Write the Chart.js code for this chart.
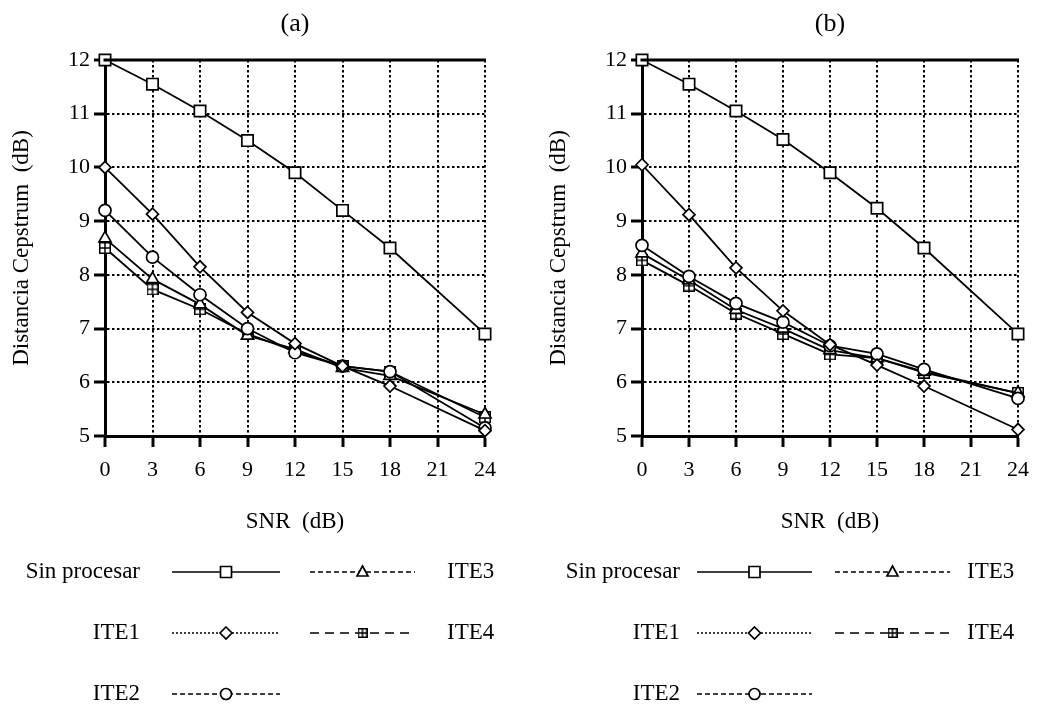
<!DOCTYPE html>
<html>
<head>
<meta charset="utf-8">
<script src="https://cdn.jsdelivr.net/npm/chart.js@4.4.0/dist/chart.umd.min.js"></script>
<style>
  html, body { margin: 0; padding: 0; background: #fff; }
  #wrap { position: relative; width: 1044px; height: 704px; }
  .box { position: absolute; top: 0; width: 522px; height: 704px; }
  #boxA { left: 0; }
  #boxB { left: 522px; }
</style>
</head>
<body>
<div id="wrap">
  <div class="box" id="boxA"><canvas id="chartA"></canvas></div>
  <div class="box" id="boxB"><canvas id="chartB"></canvas></div>
</div>
<script>
// valores
const snr = [0, 3, 6, 9, 12, 15, 18, 24];
const seriesNames = ['Sin procesar', 'ITE1', 'ITE2', 'ITE3', 'ITE4'];

// (a)
const sinProcA = [12.0, 11.55, 11.05, 10.5, 9.9, 9.2, 8.5, 6.9];
const ite1A = [10.0, 9.13, 8.15, 7.3, 6.72, 6.3, 5.93, 5.1];
const ite2A = [9.2, 8.33, 7.63, 7.0, 6.55, 6.3, 6.2, 5.15];
const ite3A = [8.68, 7.92, 7.45, 6.87, 6.62, 6.27, 6.12, 5.4];
const ite4A = [8.5, 7.73, 7.36, 6.9, 6.58, 6.3, 6.2, 5.35];

// (b)
const sinProcB = [12.0, 11.55, 11.05, 10.52, 9.9, 9.24, 8.5, 6.9];
const ite1B = [10.05, 9.12, 8.13, 7.33, 6.7, 6.32, 5.93, 5.12];
const ite2B = [8.55, 7.97, 7.47, 7.12, 6.68, 6.53, 6.24, 5.7];
const ite3B = [8.4, 7.9, 7.35, 7.0, 6.6, 6.45, 6.2, 5.8];
const ite4B = [8.27, 7.8, 7.28, 6.9, 6.52, 6.45, 6.18, 5.8];

const FONT = "'Liberation Serif', 'Times New Roman', serif";

// cuadrado con cruz para ITE4
function boxPlus(size) {
    const c = document.createElement('canvas');
    c.width = size; c.height = size;
    const g = c.getContext('2d');
    g.fillStyle = '#fff';
    g.fillRect(0, 0, size, size);
    g.strokeStyle = '#000';
    g.lineWidth = 1.5;
    g.strokeRect(0.75, 0.75, size - 1.5, size - 1.5);
    g.beginPath();
    g.moveTo(size / 2, 1); g.lineTo(size / 2, size - 1);
    g.moveTo(1, size / 2); g.lineTo(size - 1, size / 2);
    g.stroke();
    return c;
}
const boxPlusImg = boxPlus(12);
const boxPlusSmall = boxPlus(10);

const styles = [
    { point: 'rect', r: 8, dash: [] },
    { point: 'rectRot', r: 6, dash: [2, 2] },
    { point: 'circle', r: 6, dash: [5, 3] },
    { point: 'triangle', r: 7, dash: [5, 3] },
    { point: boxPlusImg, r: 6, dash: [9, 6] }
];

function makeDatasets(values) {
    return values.map((vals, i) => ({
        label: seriesNames[i],
        data: snr.map((x, j) => ({ x: x, y: vals[j] })),
        borderColor: '#000',
        borderWidth: 1.8,
        backgroundColor: '#fff',
        pointStyle: styles[i].point,
        pointRadius: styles[i].r,
        pointBorderWidth: 1.7,
        pointBackgroundColor: '#fff',
        pointBorderColor: '#000',
        legendDash: styles[i].dash,
        tension: 0,
        clip: false
    }));
}

function drawMarker(ctx, kind, x, y) {
    ctx.save();
    ctx.setLineDash([]);
    ctx.fillStyle = '#fff';
    ctx.strokeStyle = '#000';
    ctx.lineWidth = 1.7;
    ctx.beginPath();
    if (kind === 'rect') {
        ctx.rect(x - 5.5, y - 5.5, 11, 11);
    } else if (kind === 'rectRot') {
        ctx.moveTo(x, y - 6); ctx.lineTo(x + 6, y); ctx.lineTo(x, y + 6); ctx.lineTo(x - 6, y); ctx.closePath();
    } else if (kind === 'circle') {
        ctx.arc(x, y, 5.5, 0, Math.PI * 2);
    } else if (kind === 'triangle') {
        ctx.moveTo(x, y - 6); ctx.lineTo(x + 5.5, y + 4); ctx.lineTo(x - 5.5, y + 4); ctx.closePath();
    } else {
        ctx.drawImage(boxPlusSmall, x - 5, y - 5);
        ctx.restore();
        return;
    }
    ctx.fill();
    ctx.stroke();
    ctx.restore();
}

// leyenda dibujada debajo del grafico
const legendPlugin = {
    id: 'sketchLegend',
    afterDraw(chart, args, opts) {
        const ctx = chart.ctx;
        const sets = chart.data.datasets;
        const slots = [
            { idx: 0, row: 0, col: 0 },
            { idx: 1, row: 1, col: 0 },
            { idx: 2, row: 2, col: 0 },
            { idx: 3, row: 0, col: 1 },
            { idx: 4, row: 1, col: 1 }
        ];
        ctx.save();
        ctx.font = '23px ' + FONT;
        ctx.fillStyle = '#000';
        ctx.textBaseline = 'middle';
        slots.forEach(s => {
            const ds = sets[s.idx];
            const y = opts.rows[s.row];
            const seg = s.col === 0 ? opts.col1 : opts.col2;
            ctx.save();
            ctx.strokeStyle = '#000';
            ctx.lineWidth = 1.5;
            ctx.setLineDash(ds.legendDash);
            ctx.beginPath();
            ctx.moveTo(seg[0], y);
            ctx.lineTo(seg[1], y);
            ctx.stroke();
            ctx.restore();
            const kind = typeof ds.pointStyle === 'string' ? ds.pointStyle : 'img';
            drawMarker(ctx, kind, (seg[0] + seg[1]) / 2, y);
            if (s.col === 0) {
                ctx.textAlign = 'right';
                ctx.fillText(ds.label, opts.textRight, y);
            } else {
                ctx.textAlign = 'left';
                ctx.fillText(ds.label, opts.textLeft, y);
            }
        });
        ctx.restore();
    }
};

// titulo (a)/(b) y marco superior
const framePlugin = {
    id: 'frame',
    afterDraw(chart, args, opts) {
        const { ctx, chartArea } = chart;
        ctx.save();
        ctx.strokeStyle = '#000';
        ctx.lineWidth = 3;
        ctx.beginPath();
        ctx.moveTo(chartArea.left - 1.5, chartArea.top);
        ctx.lineTo(chartArea.right + 1, chartArea.top);
        ctx.stroke();
        ctx.font = '26px ' + FONT;
        ctx.fillStyle = '#000';
        ctx.textAlign = 'center';
        ctx.textBaseline = 'middle';
        ctx.fillText(opts.text, (chartArea.left + chartArea.right) / 2, 24);
        ctx.restore();
    }
};

function makeChart(id, values, cfg) {
    const config = {
        type: 'line',
        data: { datasets: makeDatasets(values) },
        plugins: [framePlugin, legendPlugin],
        options: {
            responsive: true,
            maintainAspectRatio: false,
            animation: false,
            events: [],
            layout: { padding: { left: cfg.padLeft, right: cfg.padRight, top: 60, bottom: 144 } },
            plugins: {
                legend: { display: false },
                tooltip: { enabled: false },
                frame: { text: cfg.title },
                sketchLegend: cfg.legend
            },
            scales: {
                x: {
                    type: 'linear',
                    min: 0,
                    max: 24,
                    afterFit: s => { s.height = 124; },
                    ticks: {
                        stepSize: 3,
                        color: '#000',
                        padding: 10,
                        font: { family: FONT, size: 22 }
                    },
                    grid: {
                        color: '#000',
                        lineWidth: 2,
                        tickLength: 11,
                        tickWidth: 3,
                        tickColor: '#000'
                    },
                    border: { color: '#000', width: 3, dash: [2.5, 2.5] },
                    title: {
                        display: true,
                        text: 'SNR  (dB)',
                        color: '#000',
                        font: { family: FONT, size: 23 },
                        padding: { top: 0, bottom: 24 }
                    }
                },
                y: {
                    min: 5,
                    max: 12,
                    afterFit: s => { s.width = 105; },
                    ticks: {
                        stepSize: 0.5,
                        color: '#000',
                        padding: 4,
                        font: { family: FONT, size: 22 },
                        callback: v => Number.isInteger(v) ? v : ''
                    },
                    grid: {
                        color: '#000',
                        lineWidth: 2,
                        tickLength: 11,
                        tickWidth: 3,
                        tickColor: c => (c.tick && Number.isInteger(c.tick.value)) ? '#000' : 'rgba(0,0,0,0)'
                    },
                    border: { color: '#000', width: 3, dash: [2.5, 2.5] },
                    title: {
                        display: true,
                        text: 'Distancia Cepstrum  (dB)',
                        color: '#000',
                        font: { family: FONT, size: 23 },
                        padding: { top: 8, bottom: 0 }
                    }
                }
            }
        }
    };
    return new Chart(document.getElementById(id), config);
}

makeChart('chartA', [sinProcA, ite1A, ite2A, ite3A, ite4A], {
    title: '(a)',
    padLeft: 0,
    padRight: 37,
    legend: { rows: [572, 633, 694], col1: [172, 280], col2: [310, 415], textRight: 140, textLeft: 447 }
});

makeChart('chartB', [sinProcB, ite1B, ite2B, ite3B, ite4B], {
    title: '(b)',
    padLeft: 15,
    padRight: 26,
    legend: { rows: [572, 633, 694], col1: [175, 290], col2: [313, 428], textRight: 158, textLeft: 445 }
});
</script>
</body>
</html>
